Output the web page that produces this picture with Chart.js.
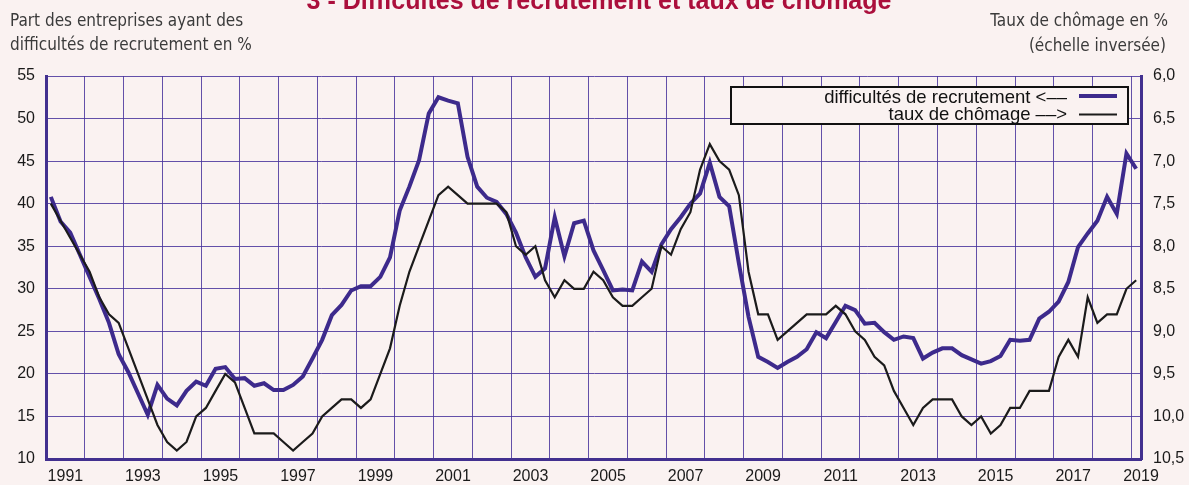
<!DOCTYPE html>
<html lang="fr"><head><meta charset="utf-8">
<script src="https://cdn.jsdelivr.net/npm/chart.js@4/dist/chart.umd.min.js"></script>
<style>
html,body{margin:0;padding:0;background:#faf2f1;}
#wrap{position:relative;width:1189px;height:485px;}
canvas{display:block;}
</style>
</head><body>
<div id="wrap"><canvas id="c" width="1189" height="485"></canvas></div>
<script>
// ---- DATA (quarterly, 1991 T1 .. 2019 T1) ----
const firstYear = 1991;
const lastYear = 2019;
const quarterLabels = [];
for (let y = firstYear; y <= lastYear; y++) for (let q = 1; q <= 4; q++) quarterLabels.push(y + ' T' + q);

const difficultes = [
  40.8, 37.9, 36.6, 34.0, 31.4, 28.8, 26.0, 22.3, 20.2, 17.7,
  15.2, 18.7, 17.1, 16.3, 18.0, 19.1, 18.6, 20.6, 20.8, 19.4,
  19.5, 18.6, 18.9, 18.1, 18.1, 18.7, 19.7, 21.8, 24.0, 26.9,
  28.1, 29.8, 30.3, 30.3, 31.4, 33.7, 39.2, 42.0, 45.1, 50.6,
  52.5, 52.1, 51.8, 45.5, 42.0, 40.7, 40.2, 38.8, 36.6, 33.7,
  31.4, 32.4, 38.4, 33.8, 37.7, 38.0, 34.5, 32.2, 29.8, 29.9,
  29.8, 33.2, 32.0, 35.2, 37.0, 38.4, 40.0, 41.2, 44.8, 40.8,
  39.7, 33.0, 26.7, 22.0, 21.4, 20.7, 21.4, 22.0, 22.9, 24.9,
  24.2, 26.1, 28.0, 27.5, 25.9, 26.0, 24.9, 24.0, 24.4, 24.2,
  21.8, 22.5, 23.0, 23.0, 22.2, 21.7, 21.2, 21.5, 22.1, 24.0,
  23.9, 24.0, 26.5, 27.3, 28.5, 30.8, 34.9, 36.5, 38.0, 40.8,
  38.8, 45.9, 44.1
];
const chomage = [
  7.5, 7.7, 7.9, 8.1, 8.3, 8.6, 8.8, 8.9, 9.2, 9.5,
  9.8, 10.1, 10.3, 10.4, 10.3, 10.0, 9.9, 9.7, 9.5, 9.6,
  9.9, 10.2, 10.2, 10.2, 10.3, 10.4, 10.3, 10.2, 10.0, 9.9,
  9.8, 9.8, 9.9, 9.8, 9.5, 9.2, 8.7, 8.3, 8.0, 7.7,
  7.4, 7.3, 7.4, 7.5, 7.5, 7.5, 7.5, 7.6, 8.0, 8.1,
  8.0, 8.4, 8.6, 8.4, 8.5, 8.5, 8.3, 8.4, 8.6, 8.7,
  8.7, 8.6, 8.5, 8.0, 8.1, 7.8, 7.6, 7.1, 6.8, 7.0,
  7.1, 7.4, 8.3, 8.8, 8.8, 9.1, 9.0, 8.9, 8.8, 8.8,
  8.8, 8.7, 8.8, 9.0, 9.1, 9.3, 9.4, 9.7, 9.9, 10.1,
  9.9, 9.8, 9.8, 9.8, 10.0, 10.1, 10.0, 10.2, 10.1, 9.9,
  9.9, 9.7, 9.7, 9.7, 9.3, 9.1, 9.3, 8.6, 8.9, 8.8,
  8.8, 8.5, 8.4
];
const categories = quarterLabels.slice(0, difficultes.length);
const yearTickLabels = ['1991','1993','1995','1997','1999','2001','2003','2005','2007','2009','2011','2013','2015','2017','2019'];
const leftTicks = [10, 15, 20, 25, 30, 35, 40, 45, 50, 55];
const rightTicks = [6.0, 6.5, 7.0, 7.5, 8.0, 8.5, 9.0, 9.5, 10.0, 10.5];

const seriesNames = ['difficultés de recrutement <––', 'taux de chômage ––>'];
const titleText = '3 - Difficultés de recrutement et taux de chômage';
const leftTitle = ['Part des entreprises ayant des', 'difficultés de recrutement en %'];
const rightTitle = ['Taux de chômage en %', '(échelle inversée)'];

// ---- STYLE ----
const BG = '#faf2f1';
const PURPLE = '#3d2a8c';
const AXIS = '#42308f';
const GRID = 'rgba(72,52,156,0.85)';
const BLACK = '#1b1b1b';
const TICKFONT = { family: '"Liberation Sans", Arial, sans-serif', size: 16 };

function yearLabelFor(index) {
  // label centred in odd years (between T2 and T3), last label at the end
  if (index === categories.length - 1) return yearTickLabels[yearTickLabels.length - 1];
  if (index % 8 === 1) {
    const k = (index - 1) / 8;
    const lab = yearTickLabels[k];
    if (lab && lab !== yearTickLabels[yearTickLabels.length - 1]) return lab;
  }
  return '';
}

const decor = {
  id: 'decor',
  beforeDraw(chart) {
    const ctx = chart.ctx;
    ctx.save();
    ctx.fillStyle = BG;
    ctx.fillRect(0, 0, chart.width, chart.height);
    ctx.restore();
  },
  afterDraw(chart) {
    const ctx = chart.ctx;
    ctx.save();
    // title (partly cut at top)
    ctx.fillStyle = '#ab0f3c';
    ctx.font = 'bold 25px "Liberation Sans", Arial, sans-serif';
    ctx.textAlign = 'center';
    ctx.textBaseline = 'alphabetic';
    ctx.fillText(titleText, 599, 9);
    // axis titles
    ctx.fillStyle = '#3b3b3b';
    ctx.font = '17px "Liberation Sans Narrow", "DejaVu Sans Condensed", "Liberation Sans", sans-serif';
    ctx.textAlign = 'left';
    ctx.fillText(leftTitle[0], 10, 26);
    ctx.fillText(leftTitle[1], 10, 50);
    ctx.textAlign = 'right';
    ctx.fillText(rightTitle[0], 1168, 26);
    ctx.fillText(rightTitle[1], 1166, 51);
    // legend box
    const bx = 731, by = 87, bw = 397, bh = 37;
    ctx.fillStyle = BG;
    ctx.fillRect(bx, by, bw, bh);
    ctx.strokeStyle = '#111';
    ctx.lineWidth = 2;
    ctx.strokeRect(bx, by, bw, bh);
    ctx.font = '18.5px "Liberation Sans", Arial, sans-serif';
    ctx.fillStyle = '#111';
    ctx.textAlign = 'right';
    const ds = chart.data.datasets;
    const rows = [[ds[1], 103, 96], [ds[0], 120, 114.5]];
    rows.forEach(([d, base, ly]) => {
      ctx.fillText(d.label, 1067, base);
      ctx.beginPath();
      ctx.strokeStyle = d.borderColor;
      ctx.lineWidth = d.borderWidth;
      ctx.moveTo(1079, ly);
      ctx.lineTo(1117, ly);
      ctx.stroke();
    });
    ctx.restore();
  }
};

new Chart(document.getElementById('c'), {
  type: 'line',
  data: {
    labels: categories,
    datasets: [
      {
        label: seriesNames[1],
        data: chomage,
        yAxisID: 'y2',
        borderColor: BLACK,
        borderWidth: 2.2,
        pointRadius: 0,
        tension: 0,
        order: 0
      },
      {
        label: seriesNames[0],
        data: difficultes,
        yAxisID: 'y',
        borderColor: PURPLE,
        borderWidth: 4,
        pointRadius: 0,
        tension: 0,
        order: 1
      }
    ]
  },
  options: {
    responsive: false,
    animation: false,
    events: [],
    layout: { padding: { top: 76, left: 0, right: 0, bottom: 0 } },
    plugins: { legend: { display: false }, title: { display: false }, tooltip: { enabled: false } },
    scales: {
      x: {
        type: 'category',
        offset: true,
        grid: {
          offset: true,
          drawTicks: false,
          lineWidth: 1,
          color: (c) => (c.index % 4 === 0 ? GRID : 'rgba(0,0,0,0)')
        },
        border: { display: true, color: AXIS, width: 3 },
        ticks: {
          autoSkip: false, maxRotation: 0, minRotation: 0,
          padding: 8, labelOffset: 4.85,
          font: TICKFONT, color: '#1a1a1a',
          callback: (v, i) => yearLabelFor(i)
        },
        afterFit: (s) => { s.height = 26; }
      },
      y: {
        position: 'left',
        min: leftTicks[0], max: leftTicks[leftTicks.length - 1],
        afterBuildTicks: (s) => { s.ticks = leftTicks.map(v => ({ value: v })); },
        grid: { color: GRID, lineWidth: 1, drawTicks: false },
        border: { display: true, color: AXIS, width: 3 },
        ticks: { padding: 11, font: TICKFONT, color: '#1a1a1a' },
        afterFit: (s) => { s.width = 46; }
      },
      y2: {
        position: 'right',
        reverse: true,
        min: rightTicks[0], max: rightTicks[rightTicks.length - 1],
        afterBuildTicks: (s) => { s.ticks = rightTicks.map(v => ({ value: v })); },
        grid: { drawOnChartArea: false, drawTicks: false },
        border: { display: true, color: AXIS, width: 3 },
        ticks: { padding: 12, font: TICKFONT, color: '#1a1a1a',
          callback: (v) => Number(v).toFixed(1).replace('.', ',') },
        afterFit: (s) => { s.width = 48; }
      }
    }
  },
  plugins: [decor]
});
</script>
</body></html>
